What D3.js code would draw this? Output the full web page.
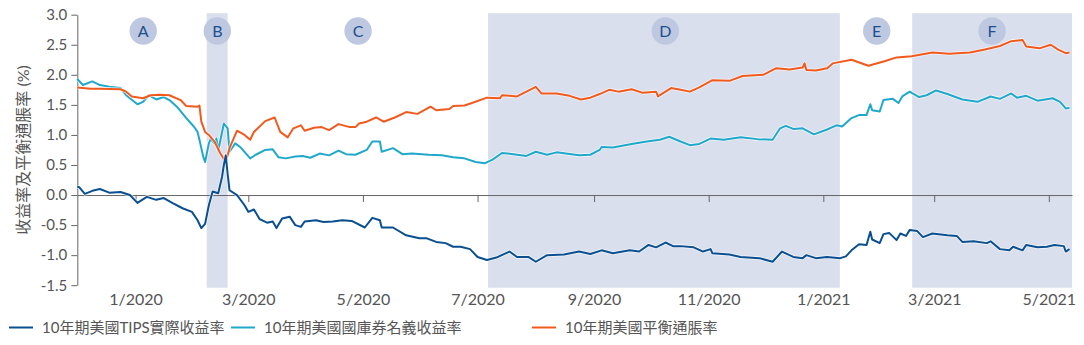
<!DOCTYPE html>
<html><head><meta charset="utf-8">
<script src="https://cdn.jsdelivr.net/npm/d3@7"></script>
<style>
html,body{margin:0;padding:0;background:#fff;}
svg{display:block;font-family:Lato,"Noto Sans CJK TC",sans-serif;}
</style></head>
<body>
<svg id="chart" width="1084" height="345"></svg>
<script>
// ---------- data ----------
const tipsReal = [
["2019-12-01",0.14],["2019-12-02",0.13],["2019-12-05",0.02],["2019-12-09",0.07],["2019-12-13",0.10],
["2019-12-18",0.04],["2019-12-24",0.05],["2019-12-29",0.00],["2020-01-02",-0.13],["2020-01-07",-0.03],
["2020-01-12",-0.08],["2020-01-16",-0.05],["2020-01-21",-0.14],["2020-01-26",-0.22],["2020-01-31",-0.28],
["2020-02-03",-0.42],["2020-02-05",-0.55],["2020-02-07",-0.48],["2020-02-09",-0.17],["2020-02-11",0.06],
["2020-02-14",0.03],["2020-02-16",0.30],["2020-02-17",0.50],["2020-02-18",0.66],["2020-02-19",0.35],
["2020-02-20",0.08],["2020-02-24",0.00],["2020-02-28",-0.17],["2020-03-01",-0.28],["2020-03-04",-0.24],
["2020-03-07",-0.40],["2020-03-11",-0.46],["2020-03-14",-0.44],["2020-03-16",-0.55],["2020-03-19",-0.39],
["2020-03-23",-0.36],["2020-03-26",-0.50],["2020-03-29",-0.53],["2020-03-31",-0.44],["2020-04-06",-0.42],
["2020-04-10",-0.45],["2020-04-15",-0.44],["2020-04-20",-0.42],["2020-04-25",-0.43],["2020-05-02",-0.54],
["2020-05-06",-0.38],["2020-05-10",-0.42],["2020-05-11",-0.54],["2020-05-17",-0.54],["2020-05-24",-0.67],
["2020-05-31",-0.72],["2020-06-04",-0.72],["2020-06-09",-0.78],["2020-06-14",-0.80],["2020-06-18",-0.86],
["2020-06-22",-0.86],["2020-06-27",-0.90],["2020-07-01",-1.03],["2020-07-06",-1.08],["2020-07-11",-1.04],
["2020-07-18",-0.94],["2020-07-22",-1.03],["2020-07-28",-1.03],["2020-08-01",-1.11],["2020-08-07",-1.00],
["2020-08-16",-0.99],["2020-08-24",-0.94],["2020-08-30",-0.98],["2020-09-05",-0.92],["2020-09-11",-0.97],
["2020-09-20",-0.92],["2020-09-25",-0.94],["2020-09-30",-0.83],["2020-10-04",-0.87],["2020-10-09",-0.79],
["2020-10-13",-0.85],["2020-10-17",-0.85],["2020-10-24",-0.87],["2020-10-29",-0.94],["2020-11-02",-0.90],
["2020-11-03",-0.97],["2020-11-12",-0.99],["2020-11-18",-1.03],["2020-11-28",-1.05],["2020-12-05",-1.11],
["2020-12-10",-0.94],["2020-12-16",-1.03],["2020-12-21",-1.05],["2020-12-23",-1.00],["2020-12-28",-1.05],
["2021-01-03",-1.03],["2021-01-10",-1.05],["2021-01-13",-1.02],["2021-01-16",-0.92],["2021-01-20",-0.82],
["2021-01-24",-0.83],["2021-01-26",-0.61],["2021-01-27",-0.74],["2021-01-31",-0.80],["2021-02-02",-0.65],
["2021-02-05",-0.63],["2021-02-09",-0.75],["2021-02-11",-0.64],["2021-02-14",-0.68],["2021-02-16",-0.58],
["2021-02-20",-0.60],["2021-02-23",-0.70],["2021-02-28",-0.64],["2021-03-08",-0.67],["2021-03-13",-0.68],
["2021-03-16",-0.78],["2021-03-22",-0.77],["2021-03-29",-0.80],["2021-03-31",-0.77],["2021-04-05",-0.90],
["2021-04-10",-0.92],["2021-04-12",-0.86],["2021-04-17",-0.92],["2021-04-19",-0.83],["2021-04-25",-0.87],
["2021-04-30",-0.86],["2021-05-04",-0.83],["2021-05-09",-0.85],["2021-05-10",-0.94],["2021-05-12",-0.90]
];
const nominal = [
["2019-12-01",1.93],["2019-12-04",1.83],["2019-12-09",1.89],["2019-12-13",1.83],["2019-12-18",1.80],
["2019-12-24",1.78],["2019-12-27",1.66],["2020-01-02",1.51],["2020-01-05",1.55],["2020-01-08",1.66],
["2020-01-12",1.59],["2020-01-16",1.63],["2020-01-19",1.58],["2020-01-23",1.47],["2020-01-28",1.28],
["2020-02-01",1.14],["2020-02-03",1.05],["2020-02-04",0.92],["2020-02-06",0.64],["2020-02-07",0.55],
["2020-02-09",0.86],["2020-02-10",0.93],["2020-02-12",0.86],["2020-02-13",0.94],["2020-02-14",0.74],
["2020-02-17",1.19],["2020-02-19",1.11],["2020-02-20",0.72],["2020-02-23",0.86],["2020-02-26",0.79],
["2020-03-02",0.61],["2020-03-05",0.67],["2020-03-10",0.75],["2020-03-14",0.76],["2020-03-17",0.63],
["2020-03-21",0.61],["2020-03-26",0.64],["2020-03-30",0.65],["2020-04-03",0.62],["2020-04-08",0.69],
["2020-04-13",0.66],["2020-04-18",0.74],["2020-04-22",0.68],["2020-04-27",0.67],["2020-05-03",0.75],
["2020-05-06",0.89],["2020-05-10",0.89],["2020-05-11",0.72],["2020-05-17",0.78],["2020-05-22",0.68],
["2020-05-27",0.69],["2020-06-05",0.67],["2020-06-12",0.66],["2020-06-18",0.63],["2020-06-24",0.61],
["2020-06-30",0.55],["2020-07-05",0.53],["2020-07-09",0.59],["2020-07-14",0.70],["2020-07-20",0.68],
["2020-07-27",0.65],["2020-08-01",0.72],["2020-08-07",0.67],["2020-08-12",0.71],["2020-08-17",0.69],
["2020-08-24",0.66],["2020-08-30",0.67],["2020-09-04",0.75],["2020-09-05",0.80],["2020-09-11",0.79],
["2020-09-16",0.82],["2020-09-21",0.85],["2020-09-29",0.89],["2020-10-06",0.92],["2020-10-11",0.97],
["2020-10-17",0.89],["2020-10-22",0.83],["2020-10-27",0.85],["2020-11-02",0.94],["2020-11-09",0.92],
["2020-11-18",0.96],["2020-11-27",0.93],["2020-12-05",0.92],["2020-12-09",1.11],["2020-12-12",1.15],
["2020-12-16",1.10],["2020-12-21",1.11],["2020-12-27",1.01],["2021-01-03",1.09],["2021-01-08",1.16],
["2021-01-11",1.14],["2021-01-16",1.28],["2021-01-20",1.33],["2021-01-24",1.33],["2021-01-26",1.51],
["2021-01-27",1.41],["2021-01-31",1.39],["2021-02-02",1.58],["2021-02-07",1.60],["2021-02-10",1.53],
["2021-02-12",1.64],["2021-02-16",1.72],["2021-02-17",1.70],["2021-02-21",1.63],["2021-02-25",1.66],
["2021-03-02",1.74],["2021-03-08",1.68],["2021-03-16",1.59],["2021-03-24",1.55],["2021-03-31",1.64],
["2021-04-05",1.60],["2021-04-11",1.69],["2021-04-14",1.62],["2021-04-19",1.65],["2021-04-25",1.57],
["2021-05-03",1.61],["2021-05-07",1.55],["2021-05-10",1.44],["2021-05-12",1.45]
];
const breakeven = [
["2019-12-01",1.79],["2019-12-08",1.77],["2019-12-13",1.77],["2019-12-24",1.76],["2019-12-27",1.72],
["2019-12-30",1.64],["2020-01-05",1.61],["2020-01-09",1.66],["2020-01-14",1.67],["2020-01-19",1.66],
["2020-01-25",1.58],["2020-01-28",1.48],["2020-02-03",1.47],["2020-02-04",1.49],["2020-02-05",1.22],
["2020-02-07",1.05],["2020-02-09",1.00],["2020-02-12",0.89],["2020-02-15",0.70],["2020-02-18",0.55],
["2020-02-20",0.78],["2020-02-24",1.07],["2020-02-28",1.00],["2020-03-02",0.92],["2020-03-04",1.05],
["2020-03-10",1.23],["2020-03-15",1.29],["2020-03-18",1.05],["2020-03-22",0.96],["2020-03-25",1.11],
["2020-03-29",1.16],["2020-03-31",1.07],["2020-04-05",1.12],["2020-04-09",1.13],["2020-04-13",1.08],
["2020-04-18",1.18],["2020-04-24",1.13],["2020-04-27",1.13],["2020-04-29",1.19],["2020-05-03",1.22],
["2020-05-08",1.29],["2020-05-12",1.22],["2020-05-18",1.29],["2020-05-24",1.38],["2020-05-30",1.35],
["2020-06-06",1.47],["2020-06-09",1.41],["2020-06-16",1.43],["2020-06-18",1.48],["2020-06-24",1.49],
["2020-06-28",1.53],["2020-07-06",1.62],["2020-07-13",1.61],["2020-07-14",1.66],["2020-07-18",1.65],
["2020-07-22",1.64],["2020-07-27",1.72],["2020-08-01",1.80],["2020-08-04",1.69],["2020-08-12",1.69],
["2020-08-19",1.65],["2020-08-25",1.59],["2020-08-30",1.62],["2020-09-04",1.68],["2020-09-09",1.75],
["2020-09-14",1.72],["2020-09-21",1.76],["2020-09-27",1.70],["2020-10-04",1.72],["2020-10-05",1.64],
["2020-10-09",1.72],["2020-10-12",1.78],["2020-10-17",1.75],["2020-10-22",1.72],["2020-10-27",1.79],
["2020-11-03",1.91],["2020-11-12",1.90],["2020-11-19",1.98],["2020-11-30",2.00],["2020-12-07",2.11],
["2020-12-14",2.09],["2020-12-21",2.12],["2020-12-22",2.19],["2020-12-23",2.08],["2020-12-28",2.07],
["2021-01-03",2.11],["2021-01-06",2.19],["2021-01-16",2.25],["2021-01-25",2.15],["2021-02-03",2.23],
["2021-02-09",2.29],["2021-02-17",2.31],["2021-02-28",2.37],["2021-03-09",2.35],["2021-03-20",2.37],
["2021-03-28",2.42],["2021-04-05",2.48],["2021-04-11",2.56],["2021-04-17",2.58],["2021-04-19",2.47],
["2021-04-26",2.44],["2021-05-02",2.50],["2021-05-06",2.42],["2021-05-10",2.36],["2021-05-12",2.37]
];
const seriesNames = ["10年期美國TIPS實際收益率","10年期美國國庫券名義收益率","10年期美國平衡通脹率"];
const seriesColors = ["#0a4f8f","#20a8cb","#f15a1d"];
const periods = [
  {label:"B", start:"2020-02-07T21", end:"2020-02-19T00"},
  {label:"D", start:"2020-07-06T14", end:"2021-01-09T19"},
  {label:"F", start:"2021-02-17T07", end:"2021-05-13T08"}
];
const markers = [
  {label:"A", date:"2020-01-05T02"},
  {label:"B", date:"2020-02-13T12"},
  {label:"C", date:"2020-04-28T10"},
  {label:"D", date:"2020-10-08T22"},
  {label:"E", date:"2021-01-29T10"},
  {label:"F", date:"2021-03-31T19"}
];
const yTicks = [-1.5,-1.0,-0.5,0.0,0.5,1.0,1.5,2.0,2.5,3.0];
const xTicks = ["2020-01-01","2020-03-01","2020-05-01","2020-07-01","2020-09-01","2020-11-01","2021-01-01","2021-03-01","2021-05-01"];
const yTitle = "收益率及平衡通脹率 (%)";

// ---------- drawing ----------
const parse = s => d3.utcParse(s.length > 10 ? "%Y-%m-%dT%H" : "%Y-%m-%d")(s);
const svg = d3.select("#chart");
const x = d3.scaleUtc().domain([parse("2019-12-01"), parse("2021-05-13T08")]).range([77.3, 1072]);
const y = d3.scaleLinear().domain([-1.5, 3.0]).range([285.2, 14.7]);

// shaded periods
svg.append("g").selectAll("rect").data(periods).join("rect")
  .attr("x", d => x(parse(d.start)))
  .attr("width", d => x(parse(d.end)) - x(parse(d.start)))
  .attr("y", y(3.0) - 1.5)
  .attr("height", y(-1.5) - y(3.0) + 4)
  .attr("fill", "#d9dfed");

// y axis
const yAxis = svg.append("g").attr("transform", `translate(${x.range()[0]},0)`)
  .call(d3.axisLeft(y).tickValues(yTicks).tickSize(6).tickPadding(4).tickSizeOuter(0)
    .tickFormat(d => d.toFixed(1)));
yAxis.select(".domain").attr("stroke", "#666");
yAxis.selectAll(".tick line").attr("stroke", "#666");
yAxis.selectAll("text").attr("fill", "#555").attr("font-size", 15).attr("font-family", "Lato");

// x axis on zero line
const xAxis = svg.append("g").attr("transform", `translate(0,${y(0)})`)
  .call(d3.axisBottom(x).tickValues(xTicks.map(parse)).tickSize(7).tickPadding(91.6).tickSizeOuter(0)
    .tickFormat(d => (d.getUTCMonth() + 1) + "/" + d.getUTCFullYear()));
xAxis.select(".domain").attr("stroke", "#666");
xAxis.selectAll(".tick line").attr("stroke", "#666");
xAxis.selectAll("text").attr("fill", "#555").attr("font-size", 16).attr("font-family", "Lato");

// y title
svg.append("text")
  .attr("transform", `translate(29,${(y(3) + y(-1.5)) / 2}) rotate(-90)`)
  .attr("text-anchor", "middle")
  .attr("font-size", 16).attr("fill", "#555")
  .attr("font-family", "Lato,'Noto Sans CJK TC'")
  .text(yTitle);

// lines
const line = d3.line().x(d => x(parse(d[0]))).y(d => y(d[1])).curve(d3.curveLinear);
const all = [nominal, breakeven, tipsReal];
const cols = [seriesColors[1], seriesColors[2], seriesColors[0]];
const gl = svg.append("g");
all.forEach((s, i) => {
  gl.append("path").datum(s).attr("d", line).attr("fill", "none")
    .attr("stroke", "#fff").attr("stroke-opacity", 0.7).attr("stroke-width", 3.6).attr("stroke-linejoin", "round");
  gl.append("path").datum(s).attr("d", line).attr("fill", "none")
    .attr("stroke", cols[i]).attr("stroke-width", 2).attr("stroke-linejoin", "round");
});

// markers
const gm = svg.append("g").selectAll("g").data(markers).join("g")
  .attr("transform", d => `translate(${x(parse(d.date))},31)`);
gm.append("circle").attr("r", 13.7).attr("fill", "#bec8e0");
gm.append("text").attr("text-anchor", "middle").attr("dy", "0.36em")
  .attr("font-size", 16).attr("fill", "#1c4f8e").attr("font-family", "Lato")
  .text(d => d.label);

// legend
const legendX = [9, 231, 532];
const lg = svg.append("g").selectAll("g").data(seriesNames).join("g")
  .attr("transform", (d, i) => `translate(${legendX[i]},327.5)`);
lg.append("line").attr("x1", 0).attr("x2", 24).attr("stroke", (d, i) => seriesColors[i]).attr("stroke-width", 2);
lg.append("text").attr("x", 33).attr("dy", "0.35em").attr("font-size", 15).attr("fill", "#555")
  .attr("font-family", "Lato,'Noto Sans CJK TC'").text(d => d);
</script>
</body></html>
